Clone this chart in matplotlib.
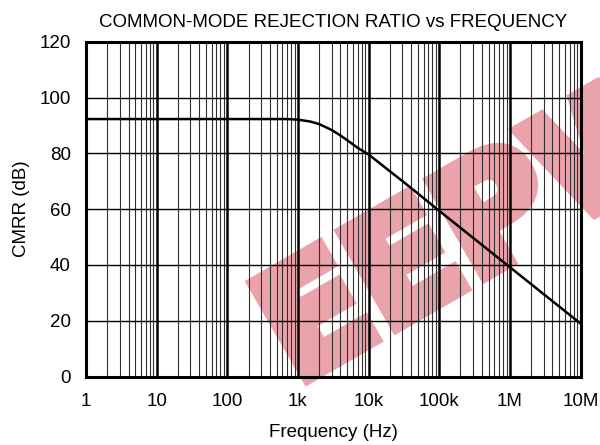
import matplotlib
matplotlib.use("Agg")
import matplotlib.pyplot as plt
import matplotlib.patheffects as pe

# Data
freq_hz = [1, 10, 100, 700, 1000, 1500, 2000, 3000, 4000, 5000, 7000,
           10000, 15000, 20000, 30000, 50000, 100000, 1000000, 10000000]
cmrr_db = [92.3, 92.3, 92.3, 92.3, 92.1, 91.4, 90.5, 88.4, 86.4, 84.7, 82.0,
           79.6, 76.1, 73.6, 70.1, 65.6, 59.4, 39.2, 19.0]

x_ticks = [1, 10, 100, 1e3, 1e4, 1e5, 1e6, 1e7]
x_tick_labels = ["1", "10", "100", "1k", "10k", "100k", "1M", "10M"]
y_ticks = [0, 20, 40, 60, 80, 100, 120]

title = "COMMON-MODE REJECTION RATIO vs FREQUENCY"
x_label = "Frequency (Hz)"
y_label = "CMRR (dB)"
watermark = "EEPW"

plt.rcParams['font.family'] = ['Liberation Sans', 'DejaVu Sans']

fig = plt.figure(figsize=(6.0, 4.45), dpi=100)
ax = fig.add_axes([86/600, 1-376.5/445, (580.5-86)/600, (376.5-41.8)/445])
ax.patch.set_facecolor('none')

ax.set_xscale('log')
ax.set_xlim(1, 1e7)
ax.set_ylim(0, 120)

# grid
for dec in range(7):
    base = 10 ** dec
    for m in range(2, 10):
        ax.axvline(base * m, color='#303030', lw=0.8, zorder=1)
    if dec > 0:
        ax.axvline(base, color='black', lw=1.8, zorder=1)
for y in y_ticks[1:-1]:
    ax.axhline(y, color='black', lw=1.0, zorder=1)

ax.plot(freq_hz, cmrr_db, color='black', lw=1.8, zorder=3)

ax.set_xticks(x_ticks)
ax.set_xticklabels(x_tick_labels)
ax.xaxis.set_minor_locator(matplotlib.ticker.NullLocator())
ax.set_yticks(y_ticks)
ax.tick_params(axis='x', length=0, pad=12, labelsize=13.5)
ax.tick_params(axis='y', length=0, pad=11, labelsize=13.5)
for s in ax.spines.values():
    s.set_linewidth(2.2)
    s.set_zorder(4)

ax.set_title(title, fontsize=13.5, pad=11)
ax.set_xlabel(x_label, fontsize=13.5, labelpad=10)
ax.set_ylabel(y_label, fontsize=13.5, labelpad=7)

# watermark (drawn beneath the transparent axes so the grid shows on top)
pink = '#eaa3aa'
fig.text(296/600, 1-385/445, watermark, fontsize=108, fontweight='bold',
         family='DejaVu Sans', color=pink,
         rotation=30, rotation_mode='anchor', ha='left', va='baseline',
         zorder=-1,
         path_effects=[pe.Stroke(linewidth=9, foreground=pink,
                                 joinstyle='miter'),
                       pe.Normal()])

fig.savefig('out.png', dpi=100)
